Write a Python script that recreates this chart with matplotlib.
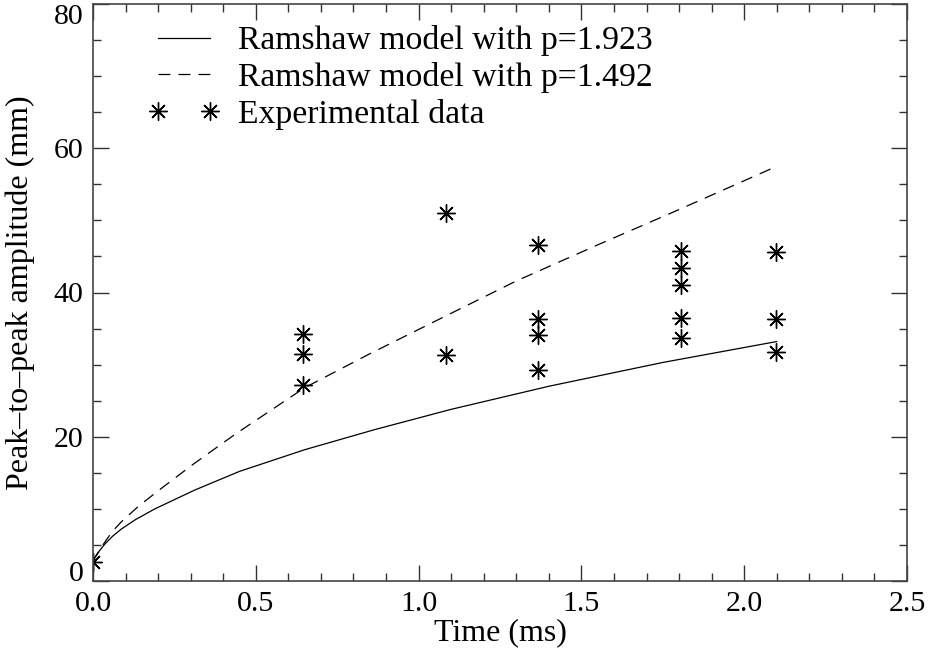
import matplotlib
matplotlib.use("Agg")
import matplotlib.pyplot as plt
from matplotlib.legend_handler import HandlerLine2D

plt.rcParams['font.family'] = ['Liberation Serif', 'DejaVu Serif']

# Model curves
t_solid = [0.0, 0.005, 0.02, 0.036, 0.06, 0.087, 0.13, 0.19, 0.312, 0.45, 0.65, 0.866, 1.1, 1.4, 1.75, 2.1]
a_solid = [2.6, 3.15, 4.2, 5.1, 6.2, 7.2, 8.5, 10.0, 12.6, 15.2, 18.2, 21.0, 23.8, 27.0, 30.3, 33.2]

t_dash = [0.0, 0.005, 0.02, 0.041, 0.06, 0.087, 0.138, 0.2, 0.302, 0.435, 0.65, 0.85, 1.05,
          1.3, 1.55, 1.8, 2.1]
a_dash = [2.6, 3.2, 4.3, 5.7, 6.9, 8.2, 10.3, 12.5, 16.0, 20.3, 26.8, 31.5, 36.0,
          41.6, 46.6, 51.5, 57.5]

# Experimental data
t_exp = [0.0,
         0.645, 0.645, 0.645,
         1.084, 1.084,
         1.367, 1.367, 1.367, 1.367,
         1.805, 1.805, 1.805, 1.805, 1.805,
         2.097, 2.097, 2.097]
a_exp = [2.6,
         34.3, 31.5, 27.2,
         51.0, 31.4,
         46.6, 36.3, 34.1, 29.3,
         45.8, 43.4, 41.1, 36.5, 33.7,
         45.6, 36.3, 31.8]

labels = ["Ramshaw model with p=1.923", "Ramshaw model with p=1.492", "Experimental data"]
xticks = [0.0, 0.5, 1.0, 1.5, 2.0, 2.5]
yticks = [0, 20, 40, 60, 80]

fig = plt.figure(figsize=(9.31, 6.54), dpi=100)
ax = fig.add_axes([93/931, 1-581/654, (907-93)/931, (581-4)/654])

fs_tick = 21.5
fs_lab = 23
fs_leg = 24.3

l1, = ax.plot(t_solid, a_solid, color='black', lw=0.9, label=labels[0])
l2, = ax.plot(t_dash, a_dash, color='black', lw=0.9, dashes=(9.5, 6.5), label=labels[1])
l3, = ax.plot(t_exp, a_exp, linestyle='none', marker=(8, 2, 0), ms=13, mew=1.0,
              color='black', label=labels[2])

ax.set_xlim(0, 2.5)
ax.set_ylim(0, 80)
ax.set_xticks(xticks)
ax.set_xticklabels([f"{v:.1f}" for v in xticks])
ax.set_yticks(yticks)
ax.set_yticklabels([str(v) for v in yticks])
ax.set_xticks([i * 0.1 for i in range(26)], minor=True)
ax.set_yticks([i * 5 for i in range(17)], minor=True)
ax.tick_params(which='both', direction='in', top=True, right=True, width=1.0, color='#333333')
ax.tick_params(which='major', length=11.5, labelsize=fs_tick, pad=7)
ax.tick_params(which='minor', length=5.8)
for s in ax.spines.values():
    s.set_linewidth(1.2)
    s.set_color('#444444')

# keep end labels of the y axis inside the axis range, as in the reference
ylabs = ax.get_yticklabels()
ylabs[0].set_verticalalignment('baseline')
ylabs[-1].set_verticalalignment('top')

ax.set_xlabel("Time (ms)", fontsize=fs_lab, labelpad=1)
ax.set_ylabel("Peak\u2013to\u2013peak amplitude (mm)", fontsize=fs_lab, labelpad=13)

leg = ax.legend(handles=[l1, l2, l3], loc='upper left', bbox_to_anchor=(0.0799, 0.963),
                frameon=False, fontsize=fs_leg, handlelength=1.54,
                handletextpad=0.83, labelspacing=0.17, borderpad=0, borderaxespad=0,
                handler_map={l3: HandlerLine2D(numpoints=2, marker_pad=0)})

fig.savefig("out.png", dpi=100)
